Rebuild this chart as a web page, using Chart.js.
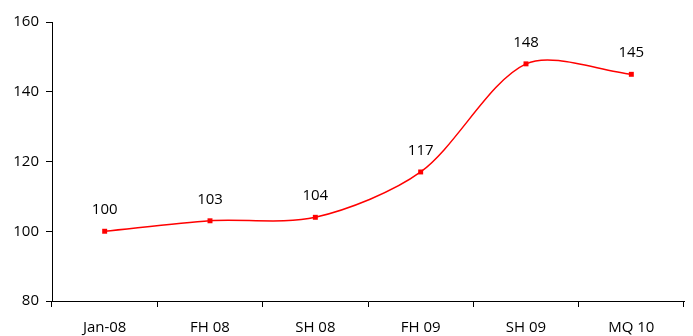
<!DOCTYPE html>
<html>
<head>
<meta charset="utf-8">
<script src="https://cdn.jsdelivr.net/npm/chart.js@4"></script>
<style>
  html, body { margin: 0; padding: 0; background: #fff; }
  #wrap { width: 693px; height: 336px; }
</style>
</head>
<body>
<div id="wrap"><canvas id="indexChart"></canvas></div>
<script>
var categories = ["Jan-08", "FH 08", "SH 08", "FH 09", "SH 09", "MQ 10"];
var values = [100, 103, 104, 117, 148, 145];
var yTicks = [80, 100, 120, 140, 160];

// draw the value above every point
var valueLabels = {
    id: "valueLabels",
    afterDatasetsDraw: function (chart) {
        var ctx = chart.ctx;
        var meta = chart.getDatasetMeta(0);
        ctx.save();
        ctx.font = "15px 'Open Sans'";
        ctx.fillStyle = "#000";
        ctx.textAlign = "center";
        ctx.textBaseline = "bottom";
        meta.data.forEach(function (pt, i) {
            ctx.fillText(values[i], pt.x, pt.y - 14);
        });
        ctx.restore();
    }
};

var ctx = document.getElementById("indexChart").getContext("2d");
new Chart(ctx, {
    type: "line",
    data: {
        labels: categories,
        datasets: [{
            data: values,
            borderColor: "#ff0000",
            backgroundColor: "#ff0000",
            borderWidth: 1.5,
            tension: 0.3,
            pointStyle: "rect",
            pointRadius: 3.5,
            pointBorderWidth: 0
        }]
    },
    options: {
        responsive: true,
        maintainAspectRatio: false,
        animation: false,
        layout: { padding: { top: 22, right: 9, left: 0, bottom: 0 } },
        plugins: { legend: { display: false }, tooltip: { enabled: false } },
        scales: {
            x: {
                offset: true,
                grid: { offset: true, drawOnChartArea: false, tickLength: 6, color: "#000" },
                border: { color: "#000", width: 1 },
                ticks: { color: "#000", font: { family: "'Open Sans'", size: 15 }, padding: 12 },
                afterFit: function (s) { s.height = 35; }
            },
            y: {
                min: 80,
                max: 160,
                afterBuildTicks: function (s) { s.ticks = yTicks.map(function (v) { return { value: v }; }); },
                grid: { drawOnChartArea: false, tickLength: 6, color: "#000" },
                border: { color: "#000", width: 1 },
                ticks: { color: "#000", font: { family: "'Open Sans'", size: 15 }, padding: 7 },
                afterFit: function (s) { s.width = 52; }
            }
        }
    },
    plugins: [valueLabels]
});
</script>
</body>
</html>
